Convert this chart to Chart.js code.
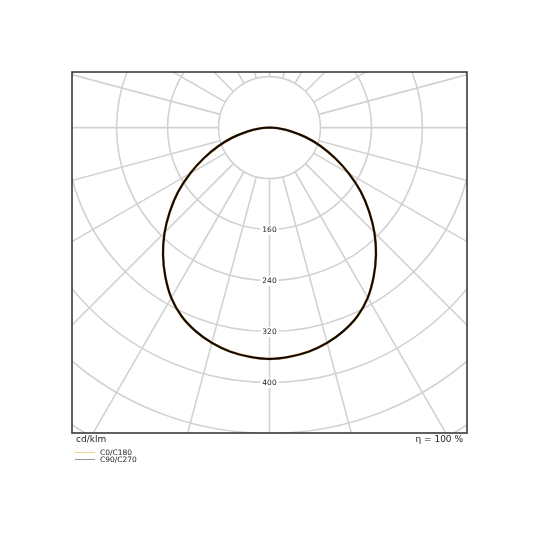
<!DOCTYPE html>
<html>
<head>
<meta charset="utf-8">
<script src="https://cdn.jsdelivr.net/npm/chart.js@4.4.0/dist/chart.umd.min.js"></script>
<style>
  html, body { margin: 0; padding: 0; background: #fff; }
  #wrap { position: relative; width: 540px; height: 540px; font-family: "DejaVu Sans", sans-serif; color: #222; }
  #ldc { position: absolute; left: 0; top: 0; }
  .txt { position: absolute; font-size: 9px; line-height: 9px; white-space: nowrap; }
  .leg { position: absolute; font-size: 7.5px; line-height: 7.5px; white-space: nowrap; }
  .sw { position: absolute; height: 1px; width: 20px; }
</style>
</head>
<body>
<div id="wrap">
  <canvas id="ldc" width="540" height="540"></canvas>
  <div class="txt" style="left:76px; top:435px;">cd/klm</div>
  <div class="txt" style="right:77px; top:435px;">η = 100 %</div>
  <div class="sw" style="left:75px; top:452px; background:#f7cf97;"></div>
  <div class="leg" style="left:100px; top:449px;">C0/C180</div>
  <div class="sw" style="left:75px; top:459px; background:#8c98a4;"></div>
  <div class="leg" style="left:100px; top:456px;">C90/C270</div>
</div>
<script>
(function () {
  "use strict";

  // gamma angles (deg from nadir) and intensities in cd/klm
  var gammas = [0, 5, 10, 15, 20, 25, 30, 35, 40, 45, 50, 55, 60, 65, 70, 75, 80, 85, 90];
  var c0c180 = [362, 360, 356, 349, 339, 326, 308, 285, 260, 233, 204, 175, 144, 114, 86, 60, 35, 15.5, 0];
  var c90c270 = [362, 360, 356, 349, 339, 326, 308, 285, 260, 233, 204, 175, 144, 114, 86, 60, 35, 15.5, 0];

  var rings = [80, 160, 240, 320, 400, 480, 560, 640, 720];
  var spokes = [];
  for (var a = 0; a < 360; a += 15) spokes.push(a);
  var tickLabels = [160, 240, 320, 400];

  // polar -> cartesian, left half mirrors the right half of the plane
  function plane(vals) {
    var pts = [];
    var i, g;
    for (i = gammas.length - 1; i >= 0; i--) {
      g = gammas[i] * Math.PI / 180;
      pts.push({ x: -vals[i] * Math.sin(g), y: -vals[i] * Math.cos(g) });
    }
    for (i = 1; i < gammas.length; i++) {
      g = gammas[i] * Math.PI / 180;
      pts.push({ x: vals[i] * Math.sin(g), y: -vals[i] * Math.cos(g) });
    }
    return pts;
  }

  var polarGrid = {
    id: "polarGrid",
    beforeDatasetsDraw: function (chart) {
      var ctx = chart.ctx, area = chart.chartArea;
      var xs = chart.scales.x, ys = chart.scales.y;
      var cx = xs.getPixelForValue(0), cy = ys.getPixelForValue(0);
      var k = xs.getPixelForValue(1) - cx;
      ctx.save();
      ctx.beginPath();
      ctx.rect(area.left, area.top, area.right - area.left, area.bottom - area.top);
      ctx.clip();
      ctx.strokeStyle = "#d2d2d2";
      ctx.lineWidth = 1.6;
      rings.forEach(function (r) {
        ctx.beginPath();
        ctx.arc(cx, cy, r * k, 0, Math.PI * 2);
        ctx.stroke();
      });
      spokes.forEach(function (deg) {
        var t = deg * Math.PI / 180;
        var sx = Math.sin(t), sy = Math.cos(t);
        ctx.beginPath();
        ctx.moveTo(cx + sx * rings[0] * k, cy + sy * rings[0] * k);
        ctx.lineTo(cx + sx * 1200 * k, cy + sy * 1200 * k);
        ctx.stroke();
      });
      ctx.restore();
    },
    afterDatasetsDraw: function (chart) {
      var ctx = chart.ctx, area = chart.chartArea;
      var xs = chart.scales.x, ys = chart.scales.y;
      var cx = xs.getPixelForValue(0);
      ctx.save();
      ctx.font = "7.5px 'DejaVu Sans'";
      ctx.textAlign = "center";
      ctx.textBaseline = "middle";
      tickLabels.forEach(function (v) {
        var py = ys.getPixelForValue(-v);
        var w = ctx.measureText(String(v)).width;
        ctx.fillStyle = "#fff";
        ctx.fillRect(cx - w / 2 - 2, py - 5, w + 4, 10);
        ctx.fillStyle = "#222";
        ctx.fillText(String(v), cx, py);
      });
      ctx.strokeStyle = "#3a3a3a";
      ctx.lineWidth = 1.6;
      ctx.strokeRect(area.left, area.top, area.right - area.left, area.bottom - area.top);
      ctx.restore();
    }
  };

  new Chart(document.getElementById("ldc").getContext("2d"), {
    type: "scatter",
    data: {
      datasets: [
        {
          label: "C0/C180",
          data: plane(c0c180),
          showLine: true,
          borderColor: "#d99a50",
          borderWidth: 2.6,
          pointRadius: 0,
          tension: 0.35,
          fill: false,
          order: 2,
        },
        {
          label: "C90/C270",
          data: plane(c90c270),
          showLine: true,
          borderColor: "#0d0a08",
          borderWidth: 2,
          pointRadius: 0,
          tension: 0.35,
          fill: false,
          order: 1,
        },
      ],
    },
    options: {
      responsive: false,
      animation: false,
      devicePixelRatio: 1,
      layout: { padding: { left: 72, right: 73, top: 72, bottom: 107 } },
      scales: {
        x: { type: "linear", min: -310, max: 310, display: false },
        y: { type: "linear", min: -478, max: 87, display: false },
      },
      plugins: {
        legend: { display: false },
        tooltip: { enabled: false },
      },
    },
    plugins: [polarGrid],
  });
})();
</script>
</body>
</html>
